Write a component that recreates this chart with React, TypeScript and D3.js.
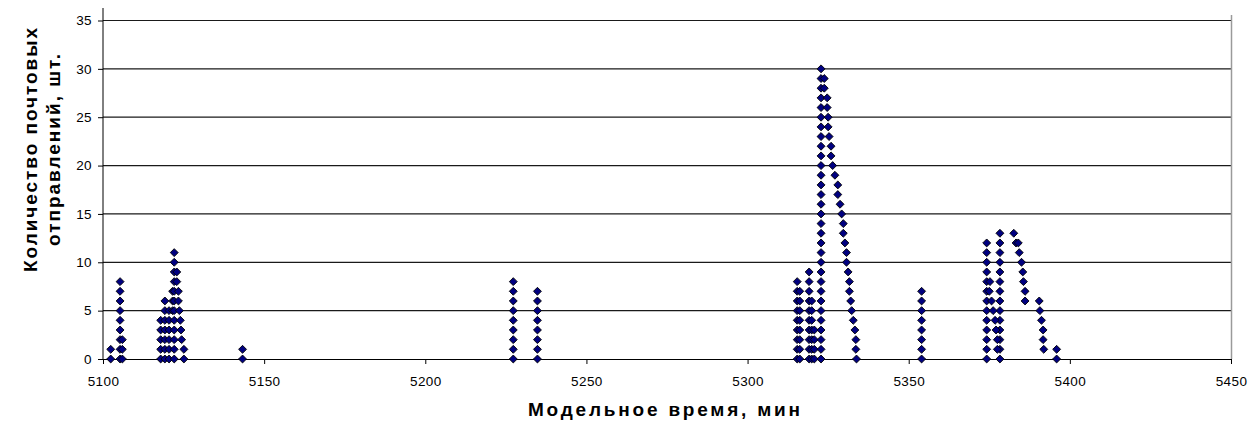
import React, { useRef, useEffect } from "react";
import * as d3 from "d3";

// vertical stacks: [model time, counts at that time]
const stacks: [number, number[]][] = [
  [5102.4, [0, 1]],
  [5105.3, [0, 1, 2, 3, 4, 5, 6, 7, 8]],
  [5106.0, [0, 1, 2]],
  [5117.9, [0, 1, 2, 3, 4]],
  [5119.2, [0, 1, 2, 3, 4, 5, 6]],
  [5120.5, [0, 1, 2, 3, 4, 5]],
  [5121.6, [5, 6, 7]],
  [5122.1, [0, 1, 2, 3, 4, 5, 6, 7, 8, 9, 10, 11]],
  [5143.3, [0, 1]],
  [5227.3, [0, 1, 2, 3, 4, 5, 6, 7, 8]],
  [5234.8, [0, 1, 2, 3, 4, 5, 6, 7]],
  [5315.4, [0, 1, 2, 3, 4, 5, 6, 7, 8]],
  [5316.2, [0, 1, 2, 3, 4, 5, 6, 7]],
  [5319.1, [0, 1, 2, 3, 4, 5, 6, 7, 8, 9]],
  [5319.9, [0, 1, 2, 3, 4, 5, 6]],
  [5320.7, [0, 1, 2, 3]],
  [5322.8, [0, 1, 2, 3, 4, 5, 6, 7, 8, 9, 10, 11, 12, 13, 14, 15, 16, 17, 18, 19, 20, 21, 22, 23, 24, 25, 26, 27, 28, 29, 30]],
  [5354.0, [0, 1, 2, 3, 4, 5, 6, 7]],
  [5374.2, [0, 1, 2, 3, 4, 5, 6, 7, 8, 9, 10, 11, 12]],
  [5378.3, [0, 1, 2, 3, 4, 5, 6, 7, 8, 9, 10, 11, 12, 13]],
];

// single points on the falling slopes: [model time, count]
const singles: [number, number][] = [
  [5122.9, 9], [5122.9, 8], [5123.4, 7], [5123.4, 6], [5123.7, 5],
  [5124.0, 4], [5124.2, 3], [5124.4, 2], [5125.1, 1], [5125.1, 0],
  [5323.8, 29], [5323.8, 28], [5324.7, 27], [5324.7, 26], [5325.0, 25],
  [5325.0, 24], [5325.3, 23], [5325.9, 22], [5325.9, 21], [5326.4, 20],
  [5327.1, 19], [5328.0, 18], [5328.0, 17], [5328.7, 16], [5329.2, 15],
  [5329.7, 14], [5329.7, 13], [5330.2, 12], [5330.7, 11], [5330.7, 10],
  [5331.2, 9], [5331.6, 8], [5331.6, 7], [5332.0, 6], [5332.3, 5],
  [5332.8, 4], [5333.3, 3], [5333.6, 2], [5333.6, 1], [5333.8, 0],
  [5375.2, 8], [5375.0, 7], [5375.7, 6], [5376.2, 5], [5376.8, 4],
  [5377.1, 3], [5377.5, 2], [5377.5, 1],
  [5382.6, 13], [5383.3, 12], [5384.0, 12], [5384.3, 11], [5385.0, 10],
  [5385.4, 9], [5385.6, 8], [5386.1, 7], [5386.1, 6], [5390.5, 6],
  [5390.7, 5], [5391.2, 4], [5391.7, 3], [5391.7, 2], [5391.9, 1],
  [5395.9, 1], [5395.9, 0],
];

const xTicks = [5100, 5150, 5200, 5250, 5300, 5350, 5400, 5450];
const yTicks = [0, 5, 10, 15, 20, 25, 30, 35];

const xTitle = "Модельное время, мин";
const yTitle = ["Количество почтовых", "отправлений, шт."];

const width = 1255;
const height = 432;
const font = "'Liberation Sans', Arial, sans-serif";

const App: React.FC = () => {
  const svgRef = useRef<SVGSVGElement>(null);

  useEffect(() => {
    if (!svgRef.current) return;
    const svg = d3.select(svgRef.current);
    svg.selectAll("*").remove();

    const left = 103;
    const right = 1231;
    const bottom = 359;

    const x = d3.scaleLinear().domain([5100, 5450]).range([left, right]);
    const y = d3.scaleLinear().domain([0, 35]).range([bottom, 20.5]);

    // gridlines
    svg
      .append("g")
      .selectAll("line")
      .data(yTicks.filter((d) => d > 0))
      .join("line")
      .attr("x1", left)
      .attr("x2", right)
      .attr("y1", (d) => y(d))
      .attr("y2", (d) => y(d))
      .attr("stroke", "#1a1a1a")
      .attr("stroke-width", 1.2);

    // right border of plot area
    svg
      .append("line")
      .attr("x1", right + 0.5)
      .attr("x2", right + 0.5)
      .attr("y1", 15)
      .attr("y2", bottom)
      .attr("stroke", "#9a9a9a")
      .attr("stroke-width", 1.5);

    const xAxis = svg
      .append("g")
      .attr("transform", `translate(0,${bottom})`)
      .call(d3.axisBottom(x).tickValues(xTicks).tickSize(5).tickSizeOuter(0).tickFormat(d3.format("d")));
    xAxis.select(".domain").attr("stroke", "#000");
    xAxis
      .selectAll("text")
      .attr("font-family", font)
      .attr("font-size", 13.5)
      .attr("fill", "#000")
      .attr("letter-spacing", 0.4)
      .attr("dy", "1.4em");

    const yAxis = svg
      .append("g")
      .attr("transform", `translate(${left},0)`)
      .call(d3.axisLeft(y).tickValues(yTicks).tickSize(5).tickSizeOuter(0));
    yAxis.select(".domain").attr("d", `M0,8V${bottom}`).attr("stroke", "#000");
    yAxis
      .selectAll("text")
      .attr("font-family", font)
      .attr("font-size", 13.5)
      .attr("fill", "#000")
      .attr("letter-spacing", 0.4)
      .attr("x", -11);

    const points: [number, number][] = [
      ...stacks.flatMap(([t, counts]) => counts.map((c) => [t, c] as [number, number])),
      ...singles,
    ];

    const diamond = d3.symbol().type(d3.symbolDiamond2).size(40);

    svg
      .append("g")
      .selectAll("path")
      .data(points)
      .join("path")
      .attr("transform", (d) => `translate(${x(d[0])},${y(d[1])})`)
      .attr("d", diamond)
      .attr("fill", "#000080")
      .attr("stroke", "#000")
      .attr("stroke-width", 0.9);

    // axis titles
    svg
      .append("text")
      .attr("x", 664)
      .attr("y", 416)
      .attr("text-anchor", "middle")
      .attr("font-family", font)
      .attr("font-size", 19)
      .attr("font-weight", "bold")
      .attr("textLength", 272)
      .attr("lengthAdjust", "spacing")
      .text(xTitle);

    const lengths = [244, 192];
    svg
      .append("text")
      .attr("transform", "translate(0,150) rotate(-90)")
      .attr("text-anchor", "middle")
      .attr("font-family", font)
      .attr("font-size", 19)
      .attr("font-weight", "bold")
      .selectAll("tspan")
      .data(yTitle)
      .join("tspan")
      .attr("x", 0)
      .attr("y", (_, i) => 37 + i * 23)
      .attr("textLength", (_, i) => lengths[i])
      .attr("lengthAdjust", "spacing")
      .text((d) => d);
  }, []);

  return (
    <svg
      ref={svgRef}
      width={width}
      height={height}
      style={{ position: "absolute", left: 0, top: 0, background: "#fff" }}
    ></svg>
  );
};

export default App;
